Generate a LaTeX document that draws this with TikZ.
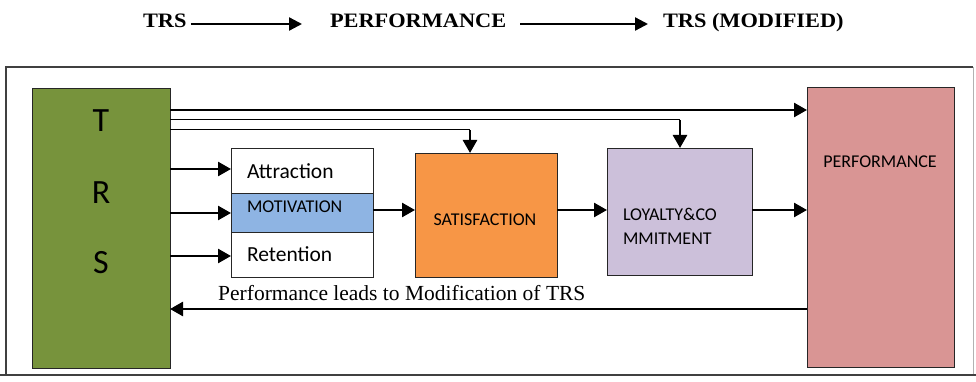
\documentclass[tikz,border=0pt]{standalone}
\usepackage{fontspec}
\setmainfont{Liberation Serif}
\newfontfamily\boxfont{Carlito}
\newfontfamily\headfont[FakeStretch=1.09]{Liberation Serif}
\usetikzlibrary{arrows.meta,calc}

\definecolor{trsgreen}{HTML}{77933C}
\definecolor{motivblue}{HTML}{8EB4E3}
\definecolor{satorange}{HTML}{F79646}
\definecolor{loylilac}{HTML}{CCC0DA}
\definecolor{perfpink}{HTML}{D99594}
\definecolor{framegray}{HTML}{404040}

\tikzset{
  box/.style={draw=black!85, line width=0.9pt, inner sep=0pt, outer sep=0pt, anchor=north west},
  lbl/.style={inner sep=0pt, outer sep=0pt, font=\boxfont\fontsize{18}{20}\selectfont},
  biglbl/.style={inner sep=0pt, outer sep=0pt, font=\boxfont\fontsize{21.5}{24}\selectfont},
  trslbl/.style={inner sep=0pt, outer sep=0pt, anchor=base, font=\boxfont\fontsize{34}{36}\selectfont},
  headtxt/.style={inner sep=0pt, outer sep=0pt, anchor=base west, font=\headfont\bfseries\fontsize{20.5}{22}\selectfont},
  arr/.style={line width=2.6pt, -{Triangle[length=13pt,width=14pt]}},
  feed/.style={line width=1pt},
  titlearr/.style={line width=2.3pt, -{Triangle[length=13pt,width=13pt]}}
}

\begin{document}
\begin{tikzpicture}[x=1pt,y=-1pt]
  \useasboundingbox (0,0) rectangle (976,382);

  % heading: TRS -> PERFORMANCE -> TRS (MODIFIED)
  \node[headtxt] (t1) at (143,28) {TRS};
  \node[headtxt] (t2) at (330,28) {PERFORMANCE};
  \node[headtxt] (t3) at (663,28) {TRS (MODIFIED)};
  \coordinate (tline) at (0,24);
  \draw[titlearr] ($(t1.east |- tline)+(4.5,0)$) -- ($(t2.west |- tline)+(-28,0)$);
  \draw[titlearr] ($(t2.east |- tline)+(14,0)$) -- ($(t3.west |- tline)+(-15,0)$);

  % outer frame
  \draw[framegray, line width=1.2pt] (6,375) -- (6,67) -- (973,67);
  \draw[black!30, line width=0.9pt] (973,67) -- (973,375);
  \draw[framegray, line width=2pt] (0,375) -- (976,375);

  % boxes
  \node[box, fill=trsgreen, minimum width=138pt, minimum height=280pt] (trs) at (32,88) {};
  \node[box, fill=white, minimum width=142pt, minimum height=45pt] (attr) at (231,148) {};
  \node[box, fill=motivblue, minimum width=142pt, minimum height=39pt] (motiv) at (231,193) {};
  \node[box, fill=white, minimum width=142pt, minimum height=45pt] (ret) at (231,232) {};
  \node[box, fill=satorange, minimum width=142pt, minimum height=124pt] (sat) at (415,153) {};
  \node[box, fill=loylilac, minimum width=145pt, minimum height=127pt] (loy) at (607,148) {};
  \node[box, fill=perfpink, minimum width=147pt, minimum height=280pt] (perf) at (807,87) {};

  % box texts
  \node[trslbl] (tT) at (101,131.7) {T};
  \node[trslbl] (tR) at (101,203.3) {R};
  \node[trslbl] (tS) at (101,273.3) {S};
  \node[biglbl, anchor=base west] (attrtxt) at (247,178.3) {Attraction};
  \node[lbl, anchor=base west] (motivtxt) at (247,212) {MOTIVATION};
  \node[biglbl, anchor=base west] (rettxt) at (247,261) {Retention};
  \node[lbl, anchor=base] (sattxt) at (485,225.7) {SATISFACTION};
  \node[lbl, anchor=base west] (loytxta) at (623,220) {LOYALTY\&CO};
  \node[lbl, anchor=base west] (loytxtb) at (623,244.3) {MMITMENT};
  \node[lbl, anchor=base] (perftxt) at (880,167.3) {PERFORMANCE};

  % rows of connectors
  \coordinate (toprow) at (0,110);
  \coordinate (loydrop) at (680,120);
  \coordinate (satdrop) at (470,130);
  \coordinate (midrow) at (0,210);
  \coordinate (attrrow) at (0,169);
  \coordinate (motivrow) at (0,213);
  \coordinate (retrow) at (0,256);
  \coordinate (fbrow) at (0,309);

  % TRS straight to performance
  \draw[arr] (trs.east |- toprow) -- (perf.west |- toprow);
  % TRS to loyalty and to satisfaction
  \draw[feed] (trs.east |- loydrop) -- (loydrop);
  \draw[arr] (loydrop) -- (loydrop |- loy.north);
  \draw[feed] (trs.east |- satdrop) -- (satdrop);
  \draw[arr] (satdrop) -- (satdrop |- sat.north);

  % TRS to attraction, motivation, retention
  \draw[arr] (trs.east |- attrrow) -- (attr.west |- attrrow);
  \draw[arr] (trs.east |- motivrow) -- (motiv.west |- motivrow);
  \draw[arr] (trs.east |- retrow) -- (ret.west |- retrow);

  % main chain
  \draw[arr] (motiv.east |- midrow) -- (sat.west |- midrow);
  \draw[arr] (sat.east |- midrow) -- (loy.west |- midrow);
  \draw[arr] (loy.east |- midrow) -- (perf.west |- midrow);

  % feedback loop
  \draw[arr] (perf.west |- fbrow) -- (trs.east |- fbrow);
  \node[inner sep=0pt, anchor=base west, font=\fontsize{21.5}{23}\selectfont] (fbtxt) at (218,300) {Performance leads to Modification of TRS};
\end{tikzpicture}
\end{document}
